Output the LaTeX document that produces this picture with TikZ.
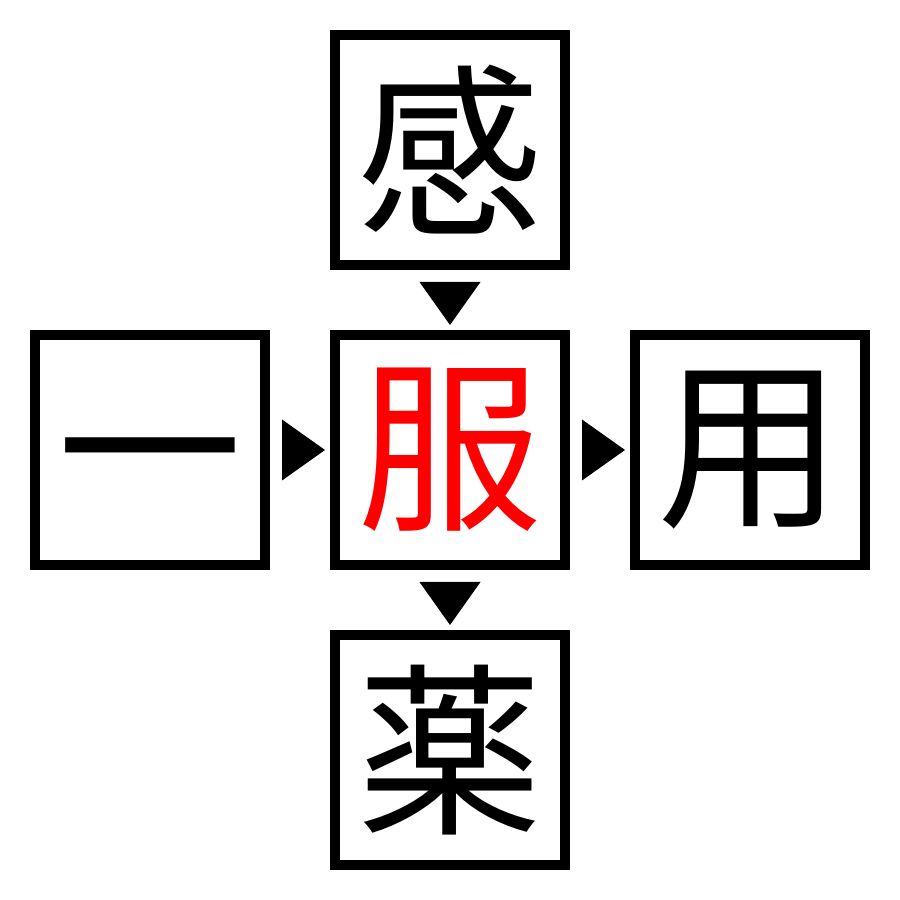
\documentclass[tikz,border=0pt]{standalone}
\usepackage{fontspec}
\newfontfamily\cjk{Noto Sans CJK JP}
\usetikzlibrary{calc}
\tikzset{
  charbox/.style={draw=black, line width=10pt, minimum size=230pt, inner sep=0pt, fill=white,
    font=\cjk\fontsize{185pt}{185pt}\selectfont, text=black},
  chartext/.style={inner sep=0pt, font=\cjk\fontsize{185pt}{185pt}\selectfont, text=black},
  tri/.style={fill=black, draw=none}
}
\begin{document}
\begin{tikzpicture}
\useasboundingbox (0,0) rectangle (900pt,900pt);
\node[charbox] (T) at (450pt,750pt) {感};
\node[charbox] (L) at (150pt,450pt) {};
\node[chartext] (LT) at ($(L.center)+(0pt,-28pt)$) {一};
\node[charbox, text={rgb,255:red,255;green,0;blue,0}] (C) at (450pt,450pt) {服};
\node[charbox] (R) at (750pt,450pt) {用};
\node[charbox] (B) at (450pt,150pt) {薬};
% connectors as triangles
\fill[tri] ($(L.east)+(12pt,30.5pt)$) -- ($(C.west)+(-5pt,0pt)$) -- ($(L.east)+(12pt,-30.5pt)$) -- cycle;
\fill[tri] ($(C.east)+(12pt,30.5pt)$) -- ($(R.west)+(-5pt,0pt)$) -- ($(C.east)+(12pt,-30.5pt)$) -- cycle;
\fill[tri] ($(T.south)+(-30.5pt,-12pt)$) -- ($(C.north)+(0pt,5pt)$) -- ($(T.south)+(30.5pt,-12pt)$) -- cycle;
\fill[tri] ($(C.south)+(-30.5pt,-12pt)$) -- ($(B.north)+(0pt,5pt)$) -- ($(C.south)+(30.5pt,-12pt)$) -- cycle;
\end{tikzpicture}
\end{document}
